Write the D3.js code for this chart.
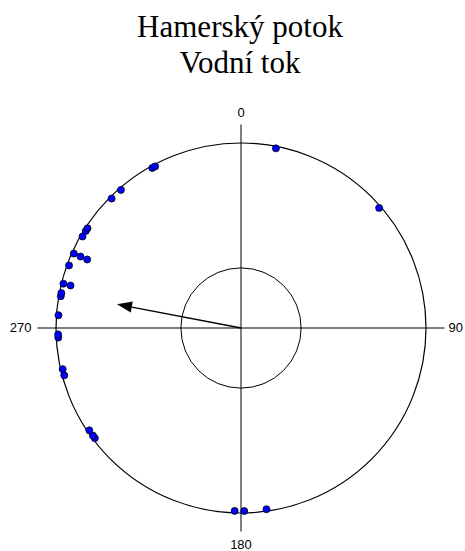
<!DOCTYPE html>
<html lang="cs">
<head>
<meta charset="utf-8">
<title>Hamerský potok</title>
<script src="https://cdn.jsdelivr.net/npm/d3@7"></script>
<style>
  body { margin: 0; background: #fff; }
  .lbl { font: 13px "Liberation Sans", Arial, sans-serif; fill: #000; }
  .title { font: 31px "Liberation Serif", "Times New Roman", serif; fill: #000; }
</style>
</head>
<body>
<svg id="chart" width="465" height="551"></svg>
<script>
var angles = [11, 49, 172, 179, 182, 233, 234, 236, 255, 257, 267, 268, 274, 280, 281,
              284, 284, 290, 294, 294, 294, 300, 302, 303, 315, 319, 331, 332];
var titleLines = ["Hamerský potok", "Vodní tok"];
var tickAngles = [0, 90, 180, 270];
var critR = 0.325;   // Rayleigh critical radius (inner circle)

var svg = d3.select("#chart");
var cx = 241, cy = 328, R = 185;

var r = d3.scaleLinear().domain([0, 1]).range([0, R]);
var a = d3.scaleLinear().domain([0, 360]).range([0, 2 * Math.PI]);
function px(deg, rad) { return cx + rad * Math.sin(a(deg)); }
function py(deg, rad) { return cy - rad * Math.cos(a(deg)); }

// title
svg.selectAll(".title").data(titleLines).enter().append("text")
  .attr("class", "title")
  .attr("x", 240)
  .attr("y", (d, i) => 37 + i * 36)
  .attr("text-anchor", "middle")
  .text(d => d);

var g = svg.append("g");

// axes crosses
var ext = 1.1;
tickAngles.forEach(function(t) {
  g.append("line")
    .attr("x1", cx).attr("y1", cy)
    .attr("x2", px(t, r(ext))).attr("y2", py(t, r(ext)))
    .attr("stroke", "#000").attr("stroke-width", 1);
});

// circles
g.append("circle").attr("cx", cx).attr("cy", cy).attr("r", r(1))
  .attr("fill", "none").attr("stroke", "#000").attr("stroke-width", 1.2);
g.append("circle").attr("cx", cx).attr("cy", cy).attr("r", r(critR))
  .attr("fill", "none").attr("stroke", "#000").attr("stroke-width", 1);

// tick labels
var lblR = r(ext) + 9;
svg.selectAll(".lbl").data(tickAngles).enter().append("text")
  .attr("class", "lbl")
  .attr("x", d => d == 90 ? px(d, lblR) - 5 : d == 270 ? px(d, lblR) + 3 : px(d, lblR))
  .attr("y", d => d == 0 ? py(d, lblR) - 2 : d == 180 ? py(d, lblR) + 5 : py(d, lblR) + 1)
  .attr("text-anchor", d => d == 90 ? "start" : d == 270 ? "end" : "middle")
  .attr("dominant-baseline", "middle")
  .text(d => d);

// stack repeated angles inward
var seen = {};
var pts = angles.map(function(d) {
  var k = seen[d] || 0;
  seen[d] = k + 1;
  return { ang: d, rad: R - 2 - k * 7.3 };
});

g.selectAll(".pt").data(pts).enter().append("circle")
  .attr("class", "pt")
  .attr("cx", d => px(d.ang, d.rad))
  .attr("cy", d => py(d.ang, d.rad))
  .attr("r", 3.5)
  .attr("fill", "#0000ff")
  .attr("stroke", "#000")
  .attr("stroke-width", 0.8);

// mean vector
var sx = d3.sum(angles, d => Math.sin(a(d))) / angles.length;
var sy = d3.sum(angles, d => Math.cos(a(d))) / angles.length;
var meanLen = Math.sqrt(sx * sx + sy * sy);
var meanAng = (Math.atan2(sx, sy) * 180 / Math.PI + 360) % 360;

var tipX = px(meanAng, r(meanLen)), tipY = py(meanAng, r(meanLen));
var headL = 15, headW = 5.5;
var ux = (tipX - cx) / r(meanLen), uy = (tipY - cy) / r(meanLen);
var bx = tipX - ux * headL, by = tipY - uy * headL;

g.append("line")
  .attr("x1", cx).attr("y1", cy).attr("x2", bx).attr("y2", by)
  .attr("stroke", "#000").attr("stroke-width", 1.3);
g.append("path")
  .attr("d", d3.line()([[tipX, tipY], [bx - uy * headW, by + ux * headW], [bx + uy * headW, by - ux * headW]]) + "Z")
  .attr("fill", "#000");
</script>
</body>
</html>
